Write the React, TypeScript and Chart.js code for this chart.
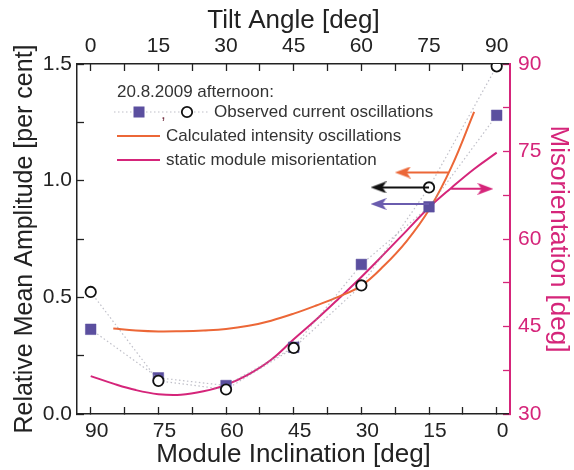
import React, { useEffect, useRef } from 'react';
import { Chart, registerables } from 'chart.js';

Chart.register(...registerables);

// ---------- data ----------
const pointInclination = [90, 75, 60, 45, 30, 15, 0];
const observedSquares = [0.363, 0.155, 0.122, 0.286, 0.641, 0.888, 1.28];
const observedCircles = [0.523, 0.142, 0.105, 0.283, 0.551, 0.971, 1.49];

const calcInclination = [85, 80, 75, 70, 65, 60, 55, 50, 45, 40, 35, 30, 25, 20, 15, 10, 5];
const calcAmplitude = [0.366, 0.358, 0.354, 0.355, 0.358, 0.364, 0.378, 0.4, 0.43, 0.465, 0.503, 0.55, 0.635, 0.74, 0.875, 1.06, 1.295];

const misInclination = [90, 85, 80, 75, 70, 65, 60, 55, 50, 45, 40, 35, 30, 25, 20, 15, 10, 5, 0];
const misDegrees = [36.5, 35.2, 34.1, 33.4, 33.3, 33.9, 35.0, 36.8, 39.3, 42.8, 46.2, 49.8, 53.5, 57.4, 61.4, 65.4, 68.8, 72.0, 74.8];

const arrowOrangeX = [10.8, 20.8];
const arrowOrangeY = [1.035, 1.035];
const arrowBlackX = [15, 26.2];
const arrowBlackY = [0.971, 0.971];
const arrowPurpleX = [15, 26.2];
const arrowPurpleY = [0.9, 0.9];
const arrowMagentaX = [10.1, 2.5];
const arrowMagentaY = [68.6, 68.6];

const bottomTicks = [0, 7.5, 15, 22.5, 30, 37.5, 45, 52.5, 60, 67.5, 75, 82.5, 90];
const topTicks = [0, 7.5, 15, 22.5, 30, 37.5, 45, 52.5, 60, 67.5, 75, 82.5, 90];
const leftTicks = [0, 0.25, 0.5, 0.75, 1.0, 1.25, 1.5];
const rightTicks = [30, 37.5, 45, 52.5, 60, 67.5, 75, 82.5, 90];

const legendTitle = '20.8.2009 afternoon:';
const legendObserved = 'Observed current oscillations';
const legendCalc = 'Calculated intensity oscillations';
const legendStatic = 'static module misorientation';

// ---------- styles ----------
const FONT = '"Liberation Sans", Arial, Helvetica, sans-serif';
const ORANGE = '#ec6737';
const MAGENTA = '#d5257a';
const PURPLE = '#5b4f9f';
const PURPLE_ARROW = '#6a5cae';
const DARK = '#222222';
const DOTTED = 'rgba(150,150,165,0.6)';

function xy(xs: number[], ys: number[]) {
  return xs.map((x, i) => ({ x, y: ys[i] }));
}

function makeHead(color: string) {
  const c = document.createElement('canvas');
  c.width = 16;
  c.height = 12;
  const g = c.getContext('2d')!;
  g.fillStyle = color;
  g.beginPath();
  g.moveTo(16, 6);
  g.lineTo(0, 0);
  g.lineTo(4, 6);
  g.lineTo(0, 12);
  g.closePath();
  g.fill();
  return c;
}

const legendPlugin = {
  id: 'customLegend',
  afterDatasetsDraw(chart: any) {
    const ctx = chart.ctx as CanvasRenderingContext2D;
    ctx.save();
    ctx.font = '17px ' + FONT;
    ctx.fillStyle = '#333';
    ctx.textBaseline = 'middle';
    ctx.fillText(legendTitle, 117, 92);

    // row: observed
    const y1 = 112;
    ctx.strokeStyle = DOTTED;
    ctx.lineWidth = 1.2;
    ctx.setLineDash([1.5, 2.5]);
    ctx.beginPath();
    ctx.moveTo(114, y1);
    ctx.lineTo(210, y1);
    ctx.stroke();
    ctx.setLineDash([]);
    ctx.fillStyle = PURPLE;
    ctx.fillRect(139 - 5.5, y1 - 5.5, 11, 11);
    ctx.fillStyle = '#7a3a4a';
    ctx.fillText(',', 161, y1 + 2);
    ctx.beginPath();
    ctx.arc(187, y1, 5.2, 0, Math.PI * 2);
    ctx.fillStyle = '#fff';
    ctx.fill();
    ctx.lineWidth = 1.8;
    ctx.strokeStyle = '#111';
    ctx.stroke();
    ctx.fillStyle = '#333';
    ctx.fillText(legendObserved, 214, y1);

    // row: calculated
    const y2 = 136;
    ctx.strokeStyle = ORANGE;
    ctx.lineWidth = 2;
    ctx.beginPath();
    ctx.moveTo(117, y2);
    ctx.lineTo(160, y2);
    ctx.stroke();
    ctx.fillText(legendCalc, 166, y2);

    // row: static
    const y3 = 160;
    ctx.strokeStyle = MAGENTA;
    ctx.beginPath();
    ctx.moveTo(117, y3);
    ctx.lineTo(160, y3);
    ctx.stroke();
    ctx.fillText(legendStatic, 166, y3);
    ctx.restore();
  },
};

export default function App() {
  const ref = useRef<HTMLCanvasElement>(null);

  useEffect(() => {
    const canvas = ref.current!;
    Chart.defaults.font.family = FONT;
    const headOrange = makeHead(ORANGE);
    const headBlack = makeHead('#111111');
    const headPurple = makeHead(PURPLE_ARROW);
    const headMagenta = makeHead(MAGENTA);

    const arrow = (xs: number[], ys: number[], color: string, head: HTMLCanvasElement, rot: number, axis: string) => ({
      data: xy(xs, ys),
      showLine: true,
      borderColor: color,
      backgroundColor: color,
      borderWidth: 2,
      pointRadius: [0, 8],
      pointStyle: ['circle', head],
      pointRotation: [0, rot],
      yAxisID: axis,
      order: 0,
    });

    const chart = new Chart(canvas, {
      type: 'scatter',
      data: {
        datasets: [
          arrow(arrowOrangeX, arrowOrangeY, ORANGE, headOrange, 180, 'y') as any,
          arrow(arrowBlackX, arrowBlackY, '#111111', headBlack, 180, 'y') as any,
          arrow(arrowPurpleX, arrowPurpleY, PURPLE_ARROW, headPurple, 180, 'y') as any,
          arrow(arrowMagentaX, arrowMagentaY, MAGENTA, headMagenta, 0, 'y2') as any,
          {
            data: xy(pointInclination, observedCircles),
            showLine: true,
            borderColor: DOTTED,
            borderWidth: 1.2,
            borderDash: [1.5, 2.5],
            pointRadius: 5.2,
            pointStyle: 'circle',
            pointBackgroundColor: '#ffffff',
            pointBorderColor: '#111111',
            pointBorderWidth: 1.8,
            yAxisID: 'y',
            order: 1,
          },
          {
            data: xy(pointInclination, observedSquares),
            showLine: true,
            borderColor: DOTTED,
            borderWidth: 1.2,
            borderDash: [1.5, 2.5],
            pointRadius: 7.5,
            pointStyle: 'rect',
            pointBackgroundColor: PURPLE,
            pointBorderColor: PURPLE,
            pointBorderWidth: 0.5,
            yAxisID: 'y',
            order: 2,
          },
          {
            data: xy(calcInclination, calcAmplitude),
            showLine: true,
            borderColor: ORANGE,
            borderWidth: 2,
            pointRadius: 0,
            tension: 0.4,
            yAxisID: 'y',
            order: 3,
          },
          {
            data: xy(misInclination, misDegrees),
            showLine: true,
            borderColor: MAGENTA,
            borderWidth: 2,
            pointRadius: 0,
            tension: 0.4,
            yAxisID: 'y2',
            order: 4,
          },
        ],
      },
      options: {
        responsive: false,
        animation: false,
        events: [],
        layout: { padding: 0 },
        plugins: { legend: { display: false }, tooltip: { enabled: false } },
        scales: {
          x: {
            type: 'linear',
            position: 'bottom',
            reverse: true,
            min: -2.95,
            max: 93.04,
            afterBuildTicks: (s: any) => { s.ticks = bottomTicks.map((v) => ({ value: v })); },
            afterFit: (s: any) => { s.height = 56; },
            grid: { drawOnChartArea: false, tickLength: -7, tickColor: DARK, tickWidth: 1.3 },
            border: { color: DARK, width: 1.5 },
            ticks: {
              autoSkip: false,
              maxRotation: 0,
              padding: 12,
              labelOffset: 6,
              color: DARK,
              font: { size: 21 },
              callback: (v: any) => (Number(v) % 15 === 0 ? String(v) : ''),
            },
            title: { display: true, text: 'Module Inclination [deg]', color: DARK, font: { size: 26 }, padding: { top: 0, bottom: 0 } },
          },
          xTop: {
            type: 'linear',
            position: 'top',
            min: -3.04,
            max: 92.95,
            afterBuildTicks: (s: any) => { s.ticks = topTicks.map((v) => ({ value: v })); },
            afterFit: (s: any) => { s.height = 64; },
            grid: { drawOnChartArea: false, tickLength: -7, tickColor: DARK, tickWidth: 1.3 },
            border: { color: DARK, width: 1.5 },
            ticks: {
              autoSkip: false,
              maxRotation: 0,
              padding: 12,
              color: DARK,
              font: { size: 21 },
              callback: (v: any) => (Number(v) % 15 === 0 ? String(v) : ''),
            },
            title: { display: true, text: 'Tilt Angle [deg]', color: DARK, font: { size: 26 }, padding: { top: 5, bottom: 0 } },
          },
          y: {
            type: 'linear',
            position: 'left',
            min: 0,
            max: 1.5,
            afterBuildTicks: (s: any) => { s.ticks = leftTicks.map((v) => ({ value: v })); },
            afterFit: (s: any) => { s.width = 77; },
            grid: { drawOnChartArea: false, tickLength: -7, tickColor: DARK, tickWidth: 1.3 },
            border: { color: DARK, width: 1.5 },
            ticks: {
              autoSkip: false,
              padding: 12,
              color: DARK,
              font: { size: 21 },
              callback: (v: any) => (Math.abs(Number(v) * 2 - Math.round(Number(v) * 2)) < 1e-6 ? Number(v).toFixed(1) : ''),
            },
            title: { display: true, text: 'Relative Mean Amplitude [per cent]', color: DARK, font: { size: 25 }, padding: { top: 10, bottom: 0 } },
          },
          y2: {
            type: 'linear',
            position: 'right',
            min: 30,
            max: 90,
            afterBuildTicks: (s: any) => { s.ticks = rightTicks.map((v) => ({ value: v })); },
            afterFit: (s: any) => { s.width = 64; },
            grid: { drawOnChartArea: false, tickLength: -7, tickColor: MAGENTA, tickWidth: 1.3 },
            border: { color: MAGENTA, width: 2 },
            ticks: {
              autoSkip: false,
              padding: 15,
              color: MAGENTA,
              font: { size: 21 },
              callback: (v: any) => (Number(v) % 15 === 0 ? String(v) : ''),
            },
            title: { display: true, text: 'Misorientation [deg]', color: MAGENTA, font: { size: 26 }, padding: { top: 0, bottom: 0 } },
          },
        },
      } as any,
      plugins: [legendPlugin],
    });
    return () => chart.destroy();
  }, []);

  return (
    <div style={{ position: 'absolute', left: 0, top: 0, width: 574, height: 470, background: '#fff' }}>
      <canvas ref={ref} width={574} height={470} style={{ display: 'block', width: 574, height: 470 }} />
    </div>
  );
}
